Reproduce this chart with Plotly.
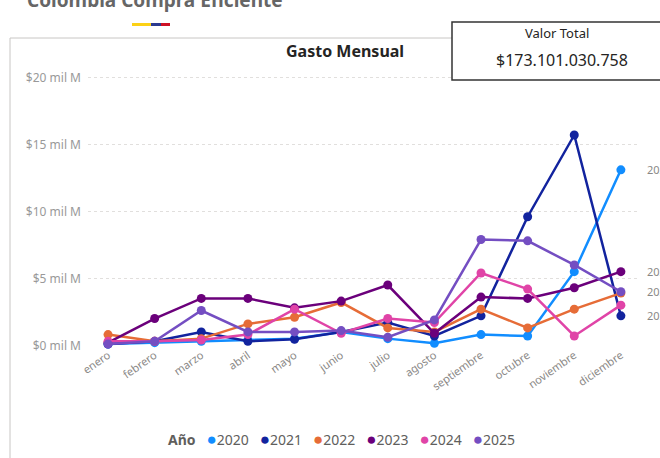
import plotly.graph_objects as go

meses = ["enero", "febrero", "marzo", "abril", "mayo", "junio", "julio",
         "agosto", "septiembre", "octubre", "noviembre", "diciembre"]

# gasto mensual, en miles de millones (mil M)
anio_2020 = [0.1, 0.2, 0.3, 0.4, 0.5, 1.0, 0.5, 0.15, 0.8, 0.7, 5.5, 13.1]
anio_2021 = [0.1, 0.3, 1.0, 0.3, 0.45, 1.0, 1.7, 0.7, 2.2, 9.6, 15.7, 2.2]
anio_2022 = [0.8, 0.3, 0.5, 1.6, 2.1, 3.2, 1.3, 1.0, 2.7, 1.3, 2.7, 3.9]
anio_2023 = [0.2, 2.0, 3.5, 3.5, 2.8, 3.3, 4.5, 0.9, 3.6, 3.5, 4.3, 5.5]
anio_2024 = [0.3, 0.3, 0.4, 0.8, 2.7, 0.9, 2.0, 1.7, 5.4, 4.2, 0.7, 3.0]
anio_2025 = [0.1, 0.3, 2.6, 1.0, 1.0, 1.1, 0.6, 1.9, 7.9, 7.8, 6.0, 4.0]

series = {
    "2020": anio_2020,
    "2021": anio_2021,
    "2022": anio_2022,
    "2023": anio_2023,
    "2024": anio_2024,
    "2025": anio_2025,
}
colores = {
    "2020": "#118DFF",
    "2021": "#12239E",
    "2022": "#E66C37",
    "2023": "#6B007B",
    "2024": "#E044A7",
    "2025": "#744EC2",
}
ticks_y = [0, 5, 10, 15, 20]
ticks_y_text = ["$0 mil M", "$5 mil M", "$10 mil M", "$15 mil M", "$20 mil M"]
etiquetas_fin = ["2020", "2023", "2025", "2021"]
valor_total = "$173.101.030.758"

FONT = "Noto Sans, Open Sans, sans-serif"

# pixel -> paper helpers (plot area: x 88..640, y 64..346)
L, R, T, B = 88, 640, 64, 346


def px(x):
    return (x - L) / (R - L)


def py(y):
    return (B - y) / (B - T)


fig = go.Figure()
for anio, vals in series.items():
    fig.add_trace(go.Scatter(
        x=meses, y=vals, mode="lines+markers", name=anio,
        line=dict(color=colores[anio], width=2.5),
        marker=dict(color=colores[anio], size=9),
        cliponaxis=False, showlegend=False,
    ))

annotations = []
for anio in etiquetas_fin:
    annotations.append(dict(
        x=px(645), xref="paper", y=series[anio][-1], yref="y",
        text=anio, showarrow=False, xanchor="left", yanchor="middle",
        font=dict(size=11, color="#8a8886", family=FONT),
    ))

leyenda = "<b>Año</b>   " + "   ".join(
    f"<span style='color:{colores[a]};font-size:17px'>●</span>{a}" for a in series
)
annotations += [
    dict(x=px(341), xref="paper", y=py(438), yref="paper", text=leyenda,
         showarrow=False, xanchor="center", yanchor="middle",
         font=dict(size=14, color="#605E5C", family=FONT)),
    dict(x=px(345), xref="paper", y=py(51), yref="paper", text="<b>Gasto Mensual</b>",
         showarrow=False, xanchor="center", yanchor="middle",
         font=dict(size=16, color="#252423", family=FONT)),
    dict(x=px(155), xref="paper", y=py(15), yref="paper", text="<b>Colombia Compra Eficiente</b>",
         showarrow=False, xanchor="center", yanchor="bottom",
         font=dict(size=19, color="#666666", family=FONT)),
    dict(x=px(557), xref="paper", y=py(33), yref="paper", text="Valor Total",
         showarrow=False, xanchor="center", yanchor="middle",
         font=dict(size=13, color="#252423", family=FONT)),
    dict(x=px(562), xref="paper", y=py(60), yref="paper", text=valor_total,
         showarrow=False, xanchor="center", yanchor="middle",
         font=dict(size=16, color="#252423", family=FONT)),
]

shapes = [
    # chart card border
    dict(type="line", xref="paper", yref="paper", x0=px(10), x1=px(10), y0=py(38), y1=py(470),
         line=dict(color="#c8c6c4", width=1)),
    dict(type="line", xref="paper", yref="paper", x0=px(10), x1=px(452), y0=py(38), y1=py(38),
         line=dict(color="#c8c6c4", width=1)),
    # valor total card
    dict(type="rect", xref="paper", yref="paper", x0=px(452), x1=px(664), y0=py(22), y1=py(80),
         line=dict(color="#333333", width=1.5), fillcolor="white"),
    # flag bar
    dict(type="rect", xref="paper", yref="paper", x0=px(132), x1=px(151), y0=py(23), y1=py(26),
         line=dict(width=0), fillcolor="#FCD116"),
    dict(type="rect", xref="paper", yref="paper", x0=px(151), x1=px(161), y0=py(23), y1=py(26),
         line=dict(width=0), fillcolor="#2b3a8f"),
    dict(type="rect", xref="paper", yref="paper", x0=px(161), x1=px(170), y0=py(23), y1=py(26),
         line=dict(width=0), fillcolor="#CE1126"),
]

fig.update_layout(
    width=660, height=458,
    margin=dict(l=L, r=660 - R, t=T, b=458 - B),
    paper_bgcolor="white", plot_bgcolor="white",
    font=dict(family=FONT, color="#777777"),
    annotations=annotations, shapes=shapes,
    showlegend=False,
)
fig.update_xaxes(
    type="category", range=[-0.43, 11.41], showgrid=False, zeroline=False,
    tickangle=-35, tickfont=dict(size=11, color="#8a8886"), ticks="", showline=False,
)
fig.update_yaxes(
    range=[-0.05, 21], tickvals=ticks_y, ticktext=ticks_y_text,
    showgrid=True, gridcolor="#e1dfdd", griddash="dot", gridwidth=1, zeroline=False,
    tickfont=dict(size=12, color="#999999"), ticks="", showline=False,
    ticklabelstandoff=6,
)

fig.write_html("out.html", config={"displayModeBar": False},
               post_script="document.body.style.margin='0';")
